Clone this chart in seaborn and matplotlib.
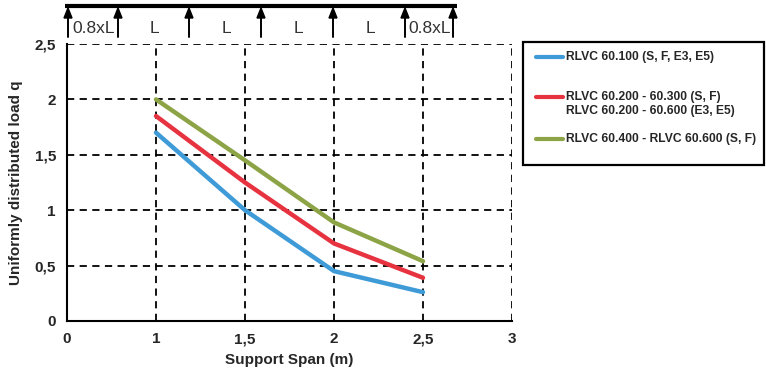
import numpy as np
import pandas as pd
import matplotlib
matplotlib.use("Agg")
import matplotlib.pyplot as plt
from matplotlib.patches import Rectangle, Polygon
import seaborn as sns

# data
x_ticks = ["0", "1", "1,5", "2", "2,5", "3"]
span_labels = ["1", "1,5", "2", "2,5"]
q_6010 = [1.70, 1.00, 0.45, 0.26]
q_6020 = [1.85, 1.25, 0.70, 0.39]
q_6040 = [2.00, 1.45, 0.89, 0.54]
series_names = [
    "RLVC 60.100 (S, F, E3, E5)",
    "RLVC 60.200 - 60.300 (S, F)\nRLVC 60.200 - 60.600 (E3, E5)",
    "RLVC 60.400 - RLVC 60.600 (S, F)",
]
colors = ["#3F9BD7", "#E73340", "#8CA446"]
y_ticks = [0, 0.5, 1, 1.5, 2, 2.5]
y_tick_labels = ["0", "0,5", "1", "1,5", "2", "2,5"]
beam_labels = ["0.8xL", "L", "L", "L", "L", "0.8xL"]

rows = []
for name, vals in zip(series_names, [q_6010, q_6020, q_6040]):
    for lab, v in zip(span_labels, vals):
        rows.append({"series": name, "pos": x_ticks.index(lab), "q": v})
df = pd.DataFrame(rows)

sns.set_style("white")
plt.rcParams["font.family"] = ["Liberation Sans", "DejaVu Sans"]
plt.rcParams["font.weight"] = "bold"

W, H = 766, 374
fig = plt.figure(figsize=(W / 100, H / 100), dpi=100)
ax = fig.add_axes([67 / W, 1 - 321 / H, (512 - 67) / W, (321 - 44) / H])

sns.lineplot(data=df, x="pos", y="q", hue="series", palette=colors,
             linewidth=3.2, ax=ax, legend=False, zorder=3)

ax.set_xlim(0, len(x_ticks) - 1)
ax.set_ylim(0, 2.5)
ax.set_xticks(range(len(x_ticks)))
ax.set_xticklabels(x_ticks)
ax.set_yticks(y_ticks)
ax.set_yticklabels(y_tick_labels)
ax.tick_params(direction="out", length=4, width=1.2, color="black",
               labelsize=11, pad=4)
for lbl in ax.get_xticklabels() + ax.get_yticklabels():
    lbl.set_fontweight("bold")

for p in range(1, len(x_ticks)):
    ax.axvline(p, color="black", lw=1.3, ls=(0, (4, 3)), zorder=1)
for yv in y_ticks[1:]:
    ax.axhline(yv, color="black", lw=1.3, ls=(0, (4, 3)), zorder=1)

for s in ["top", "right"]:
    ax.spines[s].set_visible(False)
for s in ["left", "bottom"]:
    ax.spines[s].set_color("black")
    ax.spines[s].set_linewidth(1.5)

ax.set_xlabel("Support Span (m)", fontsize=11, fontweight="bold", labelpad=5)
ax.set_ylabel("Uniformly distributed load q", fontsize=11, fontweight="bold",
              labelpad=8)

# beam diagram on top
bx = fig.add_axes([0, 0, 1, 1], facecolor="none")
bx.set_xlim(0, W)
bx.set_ylim(H, 0)
bx.axis("off")
supports = [68, 118, 189, 261, 333, 405, 453]
bx.plot([65, 457], [6, 6], color="black", lw=3, solid_capstyle="butt")
for sx in supports:
    bx.plot([sx, sx], [16, 37], color="black", lw=1.4)
    bx.add_patch(Polygon([[sx - 4, 18], [sx + 4, 18], [sx, 8]], closed=True,
                         color="black"))
for i, lab in enumerate(beam_labels):
    cx = (supports[i] + supports[i + 1]) / 2
    bx.text(cx + 1, 36, lab, ha="center", va="bottom", fontsize=12.5,
            fontweight="normal", color="#333333")

# legend box
bx.add_patch(Rectangle((523, 42), 241, 123, fill=False, edgecolor="black",
                       lw=1.6))
leg_y = [57, 97, 139]
for name, c, ly in zip(series_names, colors, leg_y):
    bx.plot([536, 563], [ly, ly], color=c, lw=3, solid_capstyle="round")
    bx.text(566, ly - 6, name, ha="left", va="top", fontsize=8.7,
            fontweight="bold", linespacing=1.25)

fig.savefig("out.png", dpi=100)
